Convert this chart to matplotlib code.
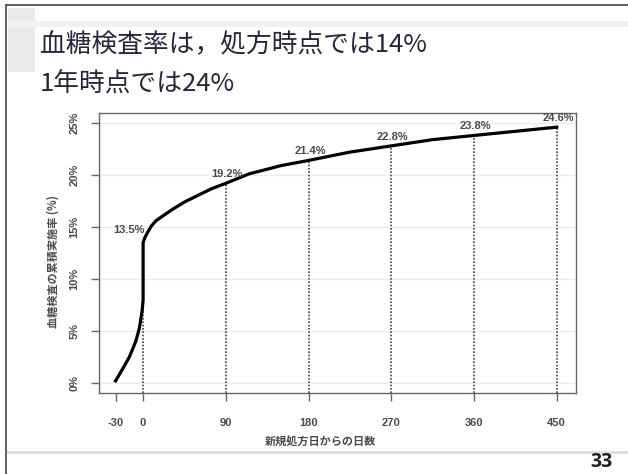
import matplotlib
matplotlib.use("Agg")
import matplotlib.pyplot as plt
from matplotlib.patches import Rectangle
from matplotlib.lines import Line2D

plt.rcParams['font.family'] = ['Liberation Sans', 'Noto Sans CJK JP', 'DejaVu Sans']

# Cumulative blood-glucose testing rate by days from new prescription
days = [-30, -22, -15, -8, -4, -1, 0, 0, 2, 5, 9, 14, 22, 32, 45, 61, 75, 90,
        115, 150, 180, 225, 270, 315, 360, 405, 450]
rate = [0.2, 1.4, 2.5, 4.0, 5.3, 7.0, 8.0, 13.5, 14.0, 14.5, 15.1, 15.6, 16.1, 16.7,
        17.4, 18.1, 18.7, 19.2, 20.1, 20.9, 21.4, 22.2, 22.8, 23.4, 23.8, 24.2, 24.6]

mark_days = [0, 90, 180, 270, 360, 450]
mark_rates = [13.5, 19.2, 21.4, 22.8, 23.8, 24.6]

xticks = [-30, 0, 90, 180, 270, 360, 450]
yticks = [0, 5, 10, 15, 20, 25]

title_lines = ["血糖検査率は，処方時点では14%", "1年時点では24%"]
xlabel = "新規処方日からの日数"
ylabel = "血糖検査の累積実施率 (%)"
page_no = "33"

W, H = 628, 474
fig = plt.figure(figsize=(W / 100, H / 100), dpi=100)
fig.patch.set_facecolor('white')

def fx(px):
    return px / W

def fy(py):
    return 1 - py / H

# Slide decoration
fig.add_artist(Rectangle((fx(8), fy(72)), fx(27), fy(8) - fy(72), transform=fig.transFigure,
                         facecolor='#ebebeb', edgecolor='none', zorder=0))
fig.add_artist(Rectangle((fx(8), fy(27)), fx(620), fy(21) - fy(27), transform=fig.transFigure,
                         facecolor='#f1f1f1', edgecolor='none', zorder=0))
fig.add_artist(Line2D([fx(6), fx(6)], [fy(5), 0], transform=fig.transFigure,
                      color='#555555', lw=1.3))
fig.add_artist(Line2D([fx(6), 1], [fy(5), fy(5)], transform=fig.transFigure,
                      color='#555555', lw=1.3))
fig.add_artist(Line2D([fx(8), 1], [fy(452), fy(452)], transform=fig.transFigure,
                      color='#dcdcdc', lw=2.0))

# Title
for text, py in zip(title_lines, [45, 84]):
    fig.text(fx(40), fy(py), text, fontsize=18.5, color='#26263a',
             family=['Noto Sans CJK JP'], va='center', ha='left')
fig.text(fx(613), fy(462), page_no, fontsize=14, fontweight='bold', color='#222222',
         family=['Open Sans'], va='center', ha='right')

# Chart
ax = fig.add_axes([fx(99), fy(393), fx(576) - fx(99), fy(113) - fy(393)])
ax.set_xlim(-48, 471)
ax.set_ylim(-0.96, 25.96)

for y in yticks:
    ax.axhline(y, color='#ececec', lw=1.0, zorder=0)

for d, r in zip(mark_days, mark_rates):
    ax.plot([d, d], [-0.96, r], color='#444444', lw=1.2, ls=(0, (1, 1)), zorder=1)

ax.plot(days, rate, color='black', lw=2.3, solid_joinstyle='round', zorder=3)

label_style = dict(ha='center', va='center', fontsize=8, color='#4a4a4a',
                   fontweight='bold', textcoords='offset points')
for d, r in zip(mark_days, mark_rates):
    offset = (-10, 9) if d == 0 else (1, 6.5)
    ax.annotate(f"{r}%", (d, r), xytext=offset, **label_style)

ax.set_xticks(xticks)
ax.set_xticklabels([str(t) for t in xticks], fontweight='bold')
ax.set_yticks(yticks)
ax.set_yticklabels([f"{t}%" for t in yticks], rotation=90, va='center', fontweight='bold')
ax.tick_params(axis='both', colors='#6b6262', labelcolor='#4a4a4a', labelsize=8,
               length=6, width=1.0)
ax.tick_params(axis='x', pad=12)
ax.tick_params(axis='y', pad=8)
for s in ax.spines.values():
    s.set_color('#6b6262')
    s.set_linewidth(1.0)

fig.text(fx(320), fy(442), xlabel, fontsize=8, color='#4a4a4a', fontweight='bold',
         family=['Noto Sans CJK JP'], ha='center', va='center')
fig.text(fx(53), fy(261), ylabel, fontsize=8, color='#4a4a4a', rotation=90, fontweight='bold',
         family=['Noto Sans CJK JP', 'DejaVu Sans'], ha='center', va='center')

fig.savefig('out.png', dpi=100, facecolor='white')
